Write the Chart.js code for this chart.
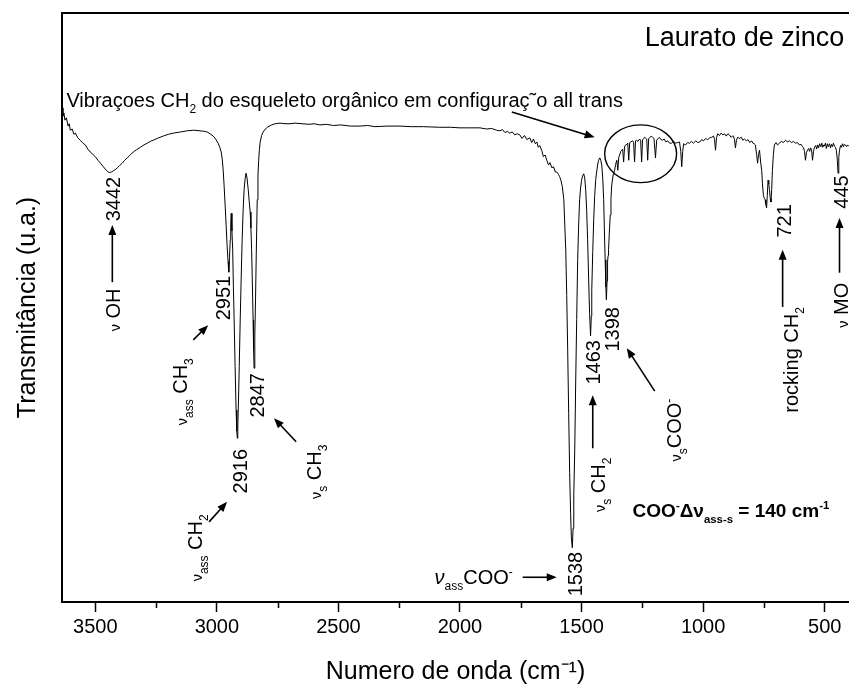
<!DOCTYPE html>
<html><head><meta charset="utf-8">
<script src="https://cdn.jsdelivr.net/npm/chart.js@4/dist/chart.umd.min.js"></script>
<style>html,body{margin:0;padding:0;background:#fff}</style>
</head><body>
<canvas id="c" width="849" height="692"></canvas>
<script>
// ---- data ----
const wavenumbers = [3636,3633,3629,3625,3619,3612,3607,3603,3595,3588,3582,3572,3562,3551,3541,3531,3521,3510,3500,3489,3479,3469,3459,3450,3442,3434,3426,3418,3410,3400,3389,3379,3369,3356,3344,3330,3315,3300,3286,3274,3262,3240,3221,3200,3180,3150,3122,3095,3069,3050,3040,3028,3015,3005,2995,2988,2982,2978,2974,2970,2966,2962,2958,2954,2951,2948,2945,2943,2941,2938,2935,2932,2929,2925,2921,2918,2916,2914,2911,2908,2904,2900,2896,2892,2888,2884,2880,2876,2871,2867,2863,2860,2857,2854,2851,2849,2847,2844,2841,2838,2834,2831,2828,2825,2822,2816,2810,2800,2793,2775,2760,2740,2720,2699,2680,2650,2620,2600,2576,2550,2520,2490,2450,2411,2380,2350,2300,2247,2200,2150,2083,2040,2000,1960,1918,1890,1870,1850,1836,1825,1815,1805,1795,1785,1775,1765,1754,1745,1735,1725,1713,1705,1698,1690,1684,1678,1672,1664,1657,1650,1643,1636,1630,1622,1615,1608,1602,1595,1590,1585,1579,1573,1569,1565,1561,1557,1553,1549,1545,1542,1538,1535,1532,1528,1524,1520,1516,1512,1508,1504,1500,1496,1491,1487,1483,1479,1475,1471,1467,1463,1460,1458,1454,1450,1446,1442,1438,1434,1430,1425,1421,1417,1413,1409,1406,1403,1400,1398,1395,1393,1391,1389,1386,1382,1379,1376,1370,1364,1360,1355,1351,1347,1343,1339,1335,1331,1327,1323,1319,1314,1310,1306,1302,1298,1290,1286,1282,1278,1274,1268,1261,1257,1253,1249,1245,1241,1237,1232,1228,1224,1220,1214,1208,1202,1196,1191,1187,1180,1173,1167,1160,1153,1146,1138,1130,1122,1113,1105,1097,1092,1088,1084,1080,1072,1064,1056,1048,1040,1030,1022,1014,1006,998,990,982,973,965,957,953,949,945,940,933,926,919,912,905,898,892,885,879,875,871,867,863,858,850,843,837,830,822,815,808,801,795,790,785,780,776,772,768,763,759,756,752,748,745,742,739,736,733,730,727,724,721,718,715,711,707,700,694,686,678,670,661,653,645,636,628,620,612,604,597,591,587,583,579,575,571,566,562,558,554,550,546,542,537,533,529,525,521,516,512,508,504,501,497,493,489,485,480,476,472,468,464,460,456,452,448,445,442,439,435,431,427,423,419,415,410,406,402,400];
const transmittance = [83.9,82.5,83.0,81.8,82.2,80.8,81.2,80.1,80.3,79.4,79.6,78.8,78.4,77.9,77.6,76.9,76.4,76.0,75.6,75.0,74.5,74.0,73.5,73.1,72.9,73.0,73.2,73.4,73.7,74.1,74.5,75.0,75.4,75.9,76.4,76.8,77.2,77.6,77.9,78.2,78.4,78.8,79.1,79.4,79.6,79.8,80.0,80.1,80.0,79.9,79.8,79.5,79.1,78.6,77.9,77.2,76.4,75.2,73.3,70.5,67.4,64.0,60.6,57.8,56.0,58.5,61.5,64.0,66.0,63.0,59.8,53.5,47.9,40.0,32.6,29.0,27.8,29.5,34.3,40.0,47.9,55.0,61.5,66.5,70.0,71.8,72.8,72.0,70.0,68.0,66.2,63.5,59.8,54.0,47.9,43.0,39.7,45.0,51.3,59.0,68.3,72.5,75.0,76.8,78.1,79.2,79.8,80.3,80.6,81.0,81.2,81.3,81.2,81.2,81.3,81.2,81.1,81.2,81.0,81.1,80.9,81.0,80.8,80.8,80.9,80.7,80.8,80.8,80.7,80.7,80.6,80.6,80.5,80.5,80.5,80.3,80.4,80.1,80.0,80.2,79.7,79.9,79.6,79.8,79.3,79.5,79.3,78.7,79.2,78.5,78.8,78.0,78.6,77.8,78.1,77.2,77.5,76.7,75.6,75.9,75.0,74.2,74.6,73.7,73.9,73.0,73.0,72.6,72.2,71.6,70.5,68.3,64.0,59.8,52.0,42.8,32.0,22.0,15.0,11.0,9.2,12.5,18.0,26.0,37.7,48.0,58.1,64.0,68.3,70.3,71.6,72.3,72.7,72.0,70.0,66.5,61.5,55.0,49.0,45.2,48.5,53.0,59.5,64.9,69.0,71.6,73.0,74.2,75.0,75.4,75.0,74.2,72.0,68.3,63.0,58.1,53.5,51.3,54.5,57.7,58.8,59.8,62.5,65.7,68.5,70.8,72.5,73.3,74.3,75.0,73.3,75.5,75.9,76.5,76.7,76.9,74.7,77.3,77.6,77.7,77.9,75.0,78.0,78.1,78.3,78.0,74.7,78.3,78.4,78.2,78.6,78.4,74.7,78.5,78.6,78.9,78.8,78.6,75.0,78.7,78.8,79.1,78.9,78.7,75.4,78.4,78.6,78.9,78.5,78.4,78.6,78.1,78.3,77.9,77.9,78.2,77.9,78.0,78.1,76.5,73.9,76.5,77.8,77.6,78.0,77.9,78.2,77.9,78.3,78.0,78.1,78.5,78.3,78.7,78.5,78.8,78.9,79.1,78.5,76.7,78.8,79.5,79.2,79.6,79.3,79.5,79.1,79.5,79.3,78.9,79.1,79.1,78.5,77.1,78.4,78.9,78.7,78.9,78.4,78.6,78.3,78.5,78.0,78.3,77.9,77.8,77.6,76.0,74.5,76.0,76.7,74.5,73.3,71.0,69.0,68.5,68.3,67.5,66.9,69.0,71.6,71.0,70.0,68.5,67.9,70.0,73.3,76.0,77.6,78.0,77.6,77.9,78.2,78.0,78.4,78.1,78.3,78.0,78.2,77.9,78.0,77.6,77.7,77.3,77.1,76.5,75.0,76.3,76.7,77.0,76.5,77.1,76.8,75.0,76.5,77.2,77.5,76.9,77.6,77.1,77.8,77.3,77.9,77.2,77.6,77.4,77.9,77.0,77.8,77.3,77.8,77.1,77.7,77.3,77.9,77.4,77.2,76.7,75.0,72.8,75.5,76.7,77.5,77.2,77.8,77.3,77.7,77.6,77.3,77.6,77.4,77.5];
const xMajorTicks = [3500,3000,2500,2000,1500,1000,500];
const xMinorTicks = [3250,2750,2250,1750,1250,750];
const xRange = [400, 3637];
const yRange = [0, 100];

const FAMILY = "'Liberation Sans', Arial, Helvetica, sans-serif";

// annotations: position in data coordinates (wavenumber, transmittance)
const labels = [
  {text:"Laurato de zinco", at:[419,96.1], size:27, align:"right"},
  {text:"Vibraçoes CH_{2} do esqueleto orgânico em configuraç˜o all trans", at:[3619,85.2], size:20, align:"left"},
  {text:"3442", at:[3430,68.4], size:20, rot:true},
  {text:"~{ν} OH", at:[3430,49.6], size:20, rot:true},
  {text:"2951", at:[2974,51.6], size:20, rot:true},
  {text:"2916", at:[2904,22.2], size:20, rot:true},
  {text:"2847", at:[2834,35.1], size:20, rot:true},
  {text:"~{ν}_{ass} CH_{3}", at:[3151,35.7], size:20, rot:true},
  {text:"~{ν}_{ass} CH_{2}", at:[3089,9.2], size:20, rot:true},
  {text:"~{ν}_{s} CH_{3}", at:[2600,22.1], size:20, rot:true},
  {text:"1538", at:[1528,4.75], size:20, rot:true},
  {text:"*{ν}_{ass}COO^{-}", at:[1783,4.2], size:20, align:"right"},
  {text:"1463", at:[1454,40.7], size:20, rot:true},
  {text:"1398", at:[1376,46.3], size:20, rot:true},
  {text:"~{ν}_{s} CH_{2}", at:[1433,19.9], size:20, rot:true},
  {text:"~{ν}_{s}COO^{-}", at:[1121,29.2], size:20, rot:true},
  {text:"COO^{-}Δν_{ass-s} = 140 cm^{-1}", at:[1290,15.6], size:19, align:"left", bold:true},
  {text:"721", at:[669,64.7], size:20, rot:true},
  {text:"rocking CH_{2}", at:[641,41.1], size:20, rot:true},
  {text:"445", at:[435,69.6], size:20, rot:true},
  {text:"~{ν} MO", at:[435,50.4], size:20, rot:true}
];
const arrows = [
  {from:[1787,83.2], to:[1446,78.9]},
  {from:[3430,54.3], to:[3430,64.0]},
  {from:[3097,44.5], to:[3036,47.0]},
  {from:[3032,13.6], to:[2958,17.0]},
  {from:[2674,27.2], to:[2765,31.2]},
  {from:[1742,4.2], to:[1602,4.2]},
  {from:[1454,26.1], to:[1454,35.1]},
  {from:[1199,35.8], to:[1314,43.1]},
  {from:[673,50.1], to:[673,59.8]},
  {from:[439,55.9], to:[439,65.2]}
];
const ellipses = [ {center:[1257,76.1], rx:148, ry:4.9} ];

function parseRich(str){
  const segs=[]; let i=0; let buf='';
  while(i<str.length){
    const c=str[i];
    if((c==='_'||c==='^'||c==='~'||c==='*') && str[i+1]==='{'){
      if(buf){segs.push({t:buf});buf='';}
      const end=str.indexOf('}',i+2);
      const t=str.slice(i+2,end);
      segs.push({t, sub:c==='_', sup:c==='^', small:c==='~', italic:c==='*'});
      i=end+1;
    } else {buf+=c;i++;}
  }
  if(buf) segs.push({t:buf});
  return segs;
}
function drawRich(ctx, text, x, y, o){
  const S=o.size, segs=parseRich(text);
  const fontOf=s=>{
    const sz = (s.sub||s.sup) ? S*0.6 : (s.small ? S*0.72 : S);
    return (s.italic?'italic ':'')+(o.bold?'bold ':'')+sz.toFixed(1)+'px '+FAMILY;
  };
  let total=0; const ws=[];
  for(const s of segs){ctx.font=fontOf(s); const w=ctx.measureText(s.t).width; ws.push(w); total+=w;}
  ctx.save(); ctx.translate(x,y); if(o.rot) ctx.rotate(-Math.PI/2);
  ctx.textAlign='left'; ctx.textBaseline='alphabetic'; ctx.fillStyle='#000';
  let cx = o.align==='left'?0:(o.align==='right'?-total:-total/2);
  const base = S*0.36;
  segs.forEach((s,k)=>{
    ctx.font=fontOf(s);
    const dy = s.sub ? S*0.3 : (s.sup ? -S*0.42 : 0);
    ctx.fillText(s.t, cx, base+dy);
    cx+=ws[k];
  });
  ctx.restore();
}
function drawArrow(ctx,x1,y1,x2,y2){
  const a=Math.atan2(y2-y1,x2-x1), L=10, W=4;
  ctx.save(); ctx.strokeStyle='#000'; ctx.fillStyle='#000'; ctx.lineWidth=1.6;
  ctx.beginPath(); ctx.moveTo(x1,y1); ctx.lineTo(x2-Math.cos(a)*L*0.8,y2-Math.sin(a)*L*0.8); ctx.stroke();
  ctx.beginPath(); ctx.moveTo(x2,y2);
  ctx.lineTo(x2-L*Math.cos(a)+W*Math.sin(a), y2-L*Math.sin(a)-W*Math.cos(a));
  ctx.lineTo(x2-L*Math.cos(a)-W*Math.sin(a), y2-L*Math.sin(a)+W*Math.cos(a));
  ctx.closePath(); ctx.fill(); ctx.restore();
}

const annotPlugin = {
  id:'annot',
  afterDraw(chart){
    const ctx=chart.ctx, xs=chart.scales.x, ys=chart.scales.y, ca=chart.chartArea;
    ctx.save(); ctx.strokeStyle='#000'; ctx.lineWidth=2;
    ctx.beginPath(); ctx.moveTo(ca.left-1,ca.top); ctx.lineTo(ca.right,ca.top); ctx.stroke();
    ctx.lineWidth=1.5;
    for(const v of xMinorTicks){ const px=Math.round(xs.getPixelForValue(v))+0.5; ctx.beginPath(); ctx.moveTo(px,ca.bottom); ctx.lineTo(px,ca.bottom+6); ctx.stroke(); }
    ctx.restore();
    for(const l of labels){
      drawRich(ctx,l.text,xs.getPixelForValue(l.at[0]),ys.getPixelForValue(l.at[1]),{size:l.size,rot:l.rot,align:l.align||'center',bold:l.bold});
    }
    for(const a of arrows){
      drawArrow(ctx,xs.getPixelForValue(a.from[0]),ys.getPixelForValue(a.from[1]),xs.getPixelForValue(a.to[0]),ys.getPixelForValue(a.to[1]));
    }
    for(const e of ellipses){
      const cx=xs.getPixelForValue(e.center[0]), cy=ys.getPixelForValue(e.center[1]);
      const rx=Math.abs(xs.getPixelForValue(e.center[0]+e.rx)-cx), ry=Math.abs(ys.getPixelForValue(e.center[1]+e.ry)-cy);
      ctx.save(); ctx.strokeStyle='#000'; ctx.lineWidth=1.4; ctx.beginPath(); ctx.ellipse(cx,cy,rx,ry,0,0,Math.PI*2); ctx.stroke(); ctx.restore();
    }
  }
};

new Chart(document.getElementById('c'), {
  type:'line',
  data:{ datasets:[{
    data: wavenumbers.map((w,i)=>({x:w,y:transmittance[i]})),
    borderColor:'#000', borderWidth:1, pointRadius:0, tension:0, fill:false
  }]},
  options:{
    responsive:false, animation:false, devicePixelRatio:1,
    layout:{padding:{top:13,right:0,left:0,bottom:0}},
    plugins:{legend:{display:false}, tooltip:{enabled:false}},
    scales:{
      x:{ type:'linear', reverse:true, min:xRange[0], max:xRange[1], position:'bottom',
        afterBuildTicks: s => { s.ticks = xMajorTicks.map(v=>({value:v})); },
        ticks:{ autoSkip:false, maxRotation:0, padding:3, color:'#000', font:{family:FAMILY,size:20}, callback:v=>String(v) },
        grid:{ drawOnChartArea:false, drawTicks:true, tickLength:10, tickWidth:1.5, tickColor:'#000' },
        border:{ display:true, color:'#000', width:2 },
        title:{ display:true, text:'Numero de onda (cm⁻¹)', color:'#000', font:{family:FAMILY,size:25}, padding:{top:0,bottom:5} },
        afterFit: s => { s.height = 90; }
      },
      y:{ type:'linear', min:yRange[0], max:yRange[1],
        ticks:{display:false},
        grid:{display:false, drawTicks:false},
        border:{ display:true, color:'#000', width:2 },
        title:{ display:true, text:'Transmitância (u.a.)', color:'#000', font:{family:FAMILY,size:25}, padding:{top:13,bottom:0} },
        afterFit: s => { s.width = 62; }
      }
    }
  },
  plugins:[annotPlugin]
});
</script>
</body></html>
